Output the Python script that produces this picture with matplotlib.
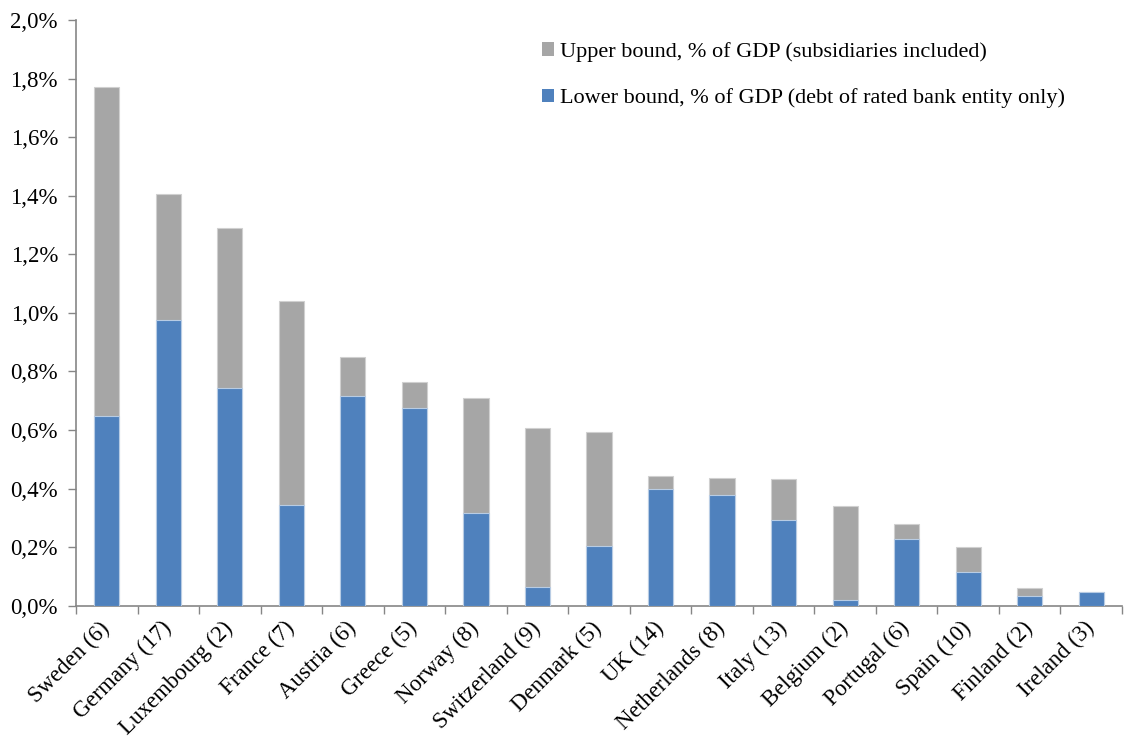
import matplotlib
matplotlib.use("Agg")
import matplotlib.pyplot as plt
from matplotlib.patches import Patch
from matplotlib.ticker import FuncFormatter, MultipleLocator
import numpy as np

countries = ["Sweden (6)", "Germany (17)", "Luxembourg (2)", "France (7)", "Austria (6)",
             "Greece (5)", "Norway (8)", "Switzerland (9)", "Denmark (5)", "UK (14)",
             "Netherlands (8)", "Italy (13)", "Belgium (2)", "Portugal (6)", "Spain (10)",
             "Finland (2)", "Ireland (3)"]
upper = [1.770, 1.405, 1.289, 1.042, 0.848, 0.763, 0.709, 0.607, 0.593, 0.443,
         0.435, 0.433, 0.340, 0.280, 0.200, 0.059, 0.046]
lower = [0.649, 0.977, 0.744, 0.344, 0.717, 0.674, 0.315, 0.065, 0.205, 0.400,
         0.379, 0.293, 0.020, 0.229, 0.114, 0.034, 0.046]

upper_label = "Upper bound, % of GDP (subsidiaries included)"
lower_label = "Lower bound, % of GDP (debt of rated bank entity only)"

plt.rcParams["font.family"] = ["Liberation Serif", "DejaVu Serif"]

GRAY = "#A6A6A6"
BLUE = "#4F81BD"
AXIS = "#868686"

fig = plt.figure(figsize=(11.36, 7.38), dpi=100)
ax = fig.add_axes([76 / 1136, 1 - 605.7 / 738, (1122 - 76) / 1136, (605.7 - 20) / 738])

x = np.arange(len(countries))
w = 0.41
ax.bar(x, upper, width=w, color=GRAY, edgecolor="#D0D0D0", linewidth=0.8, zorder=2)
ax.bar(x, lower, width=w, color=BLUE, edgecolor="#B8CCE4", linewidth=0.8, zorder=3)

ax.set_xlim(-0.5, len(countries) - 0.5)
ax.set_ylim(0, 2.0)
ax.yaxis.set_major_locator(MultipleLocator(0.2))
ax.yaxis.set_major_formatter(FuncFormatter(lambda v, _: f"{v:.1f}%".replace(".", ",")))

# category boundaries carry the ticks, labels sit under each bar
ax.set_xticks(np.arange(-0.5, len(countries) + 0.5, 1.0))
ax.set_xticklabels([])
ax.set_xticks(x, minor=True)
ax.set_xticklabels(countries, minor=True, rotation=45, ha="right", va="center",
                   rotation_mode="anchor", fontsize=16.5)
ax.tick_params(axis="x", which="minor", length=0, pad=14)
ax.tick_params(axis="x", which="major", length=6, width=1, color=AXIS, direction="out")
ax.tick_params(axis="y", length=6, width=1, color=AXIS, direction="out", labelsize=16.5, pad=7)

for side in ("top", "right"):
    ax.spines[side].set_visible(False)
for side in ("left", "bottom"):
    ax.spines[side].set_color(AXIS)
    ax.spines[side].set_linewidth(1.2)

handles = [Patch(facecolor=GRAY, edgecolor="none", label=upper_label),
           Patch(facecolor=BLUE, edgecolor="none", label=lower_label)]
fig.legend(handles=handles, loc="upper left", bbox_to_anchor=(533 / 1136, 1 - 33 / 738),
           frameon=False, fontsize=16, handlelength=0.55, handleheight=0.55,
           handletextpad=0.25, labelspacing=1.2, borderaxespad=0)

fig.savefig("out.png", dpi=100)
